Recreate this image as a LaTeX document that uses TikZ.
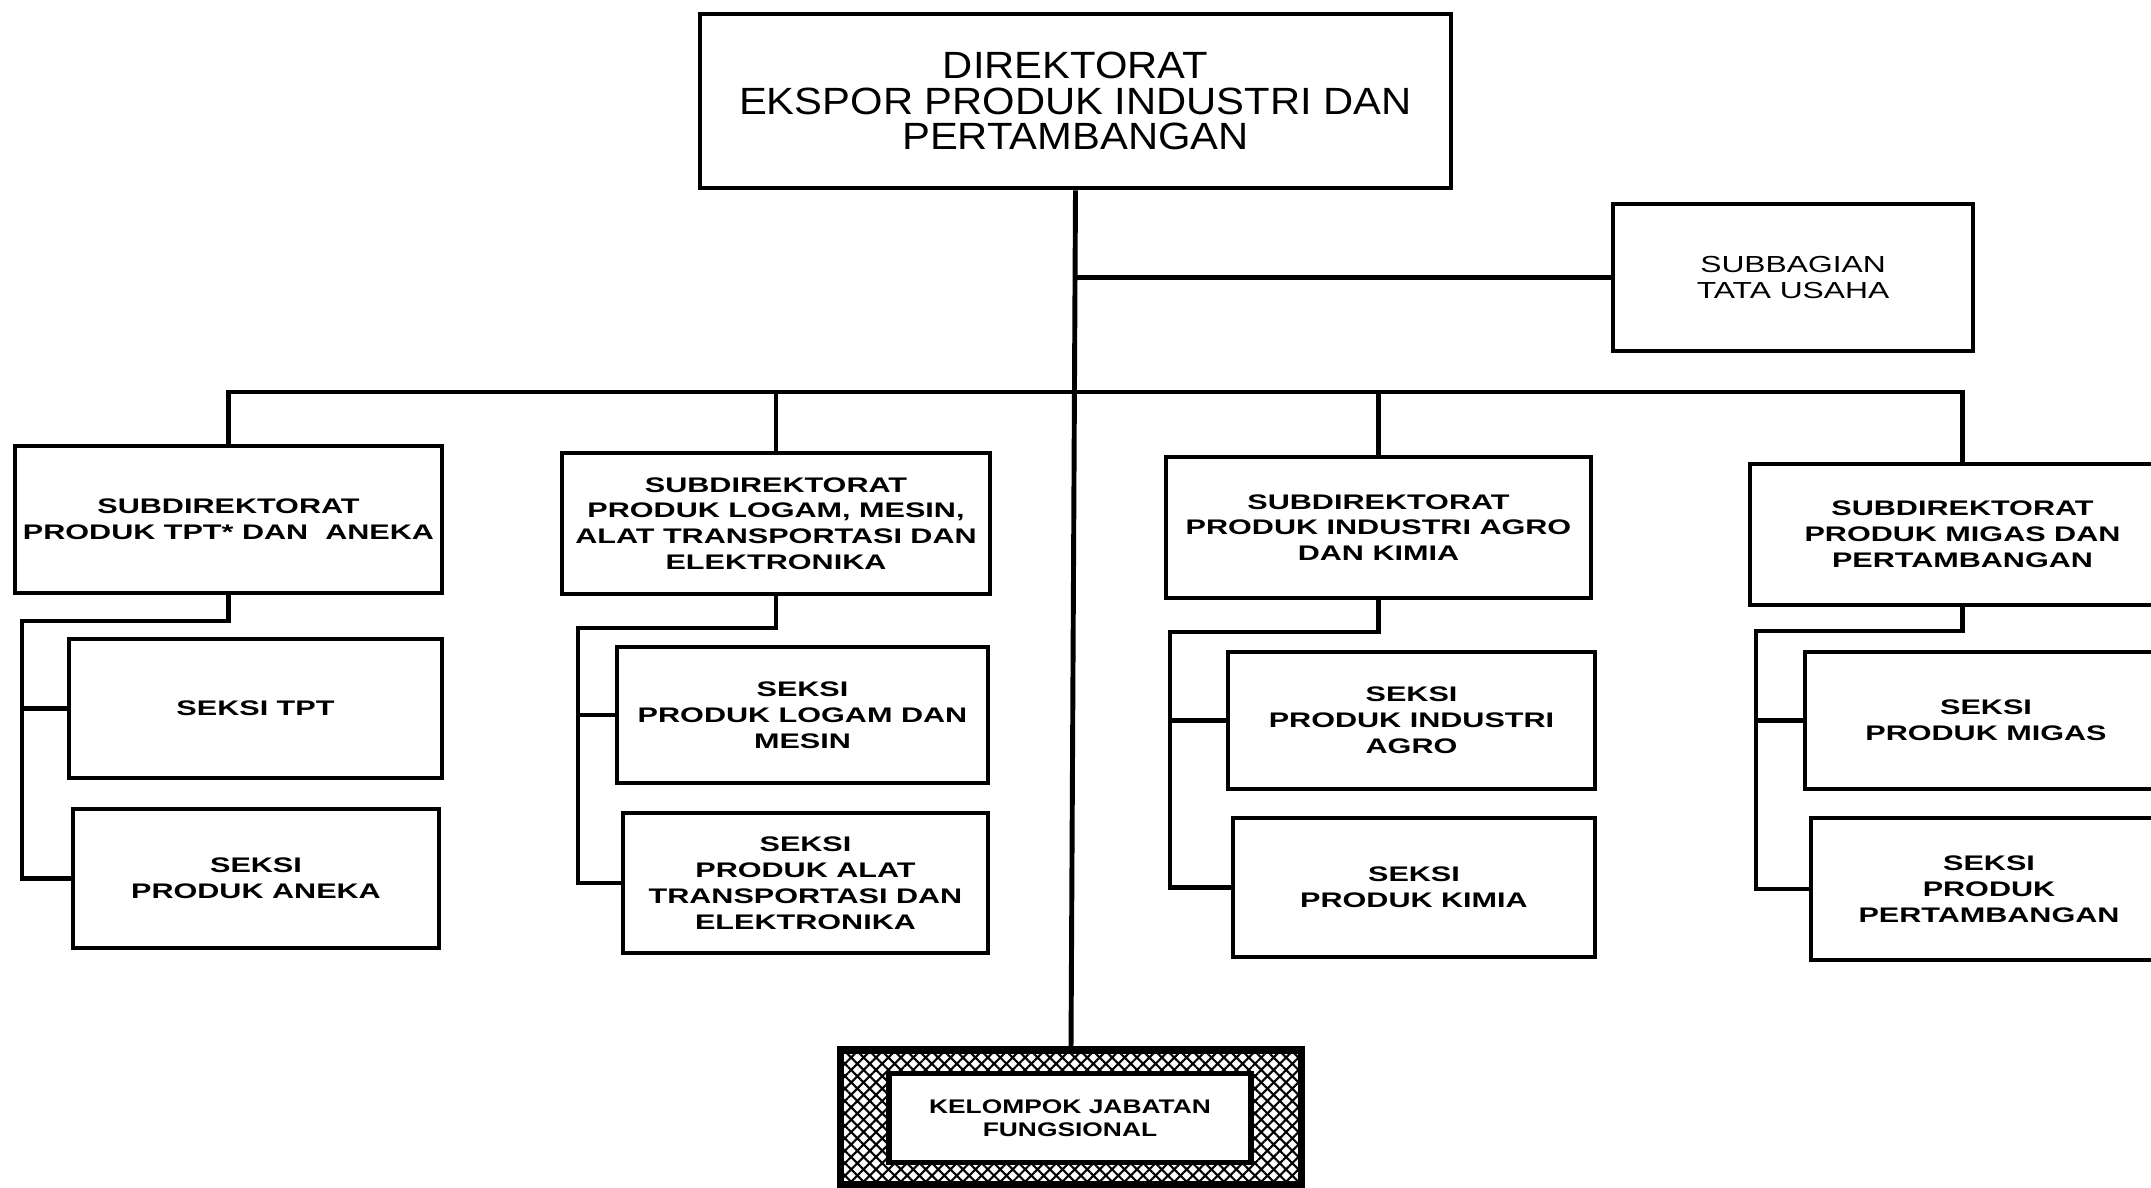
\documentclass[tikz,border=0pt]{standalone}
\usepackage{fontspec}
\setmainfont{Liberation Sans}
\newfontfamily\topfont[FakeStretch=1.1]{Liberation Sans}
\newfontfamily\sbfont[FakeStretch=1.37]{Liberation Sans}
\newfontfamily\subfont[FakeStretch=1.45]{Liberation Sans}
\newfontfamily\kelfont[FakeStretch=1.34]{Liberation Sans}
\usetikzlibrary{patterns.meta}
\tikzset{
  box/.style={draw, line width=1.4pt, align=center, inner sep=0pt, fill=white},
  conn/.style={line width=1.4pt},
  toptext/.style={font=\topfont\fontsize{10.8}{10}\selectfont},
  sbtext/.style={font=\sbfont\fontsize{6.6}{7.5}\selectfont},
  subtext/.style={font=\subfont\bfseries\fontsize{6}{7.35}\selectfont},
  keltext/.style={font=\kelfont\bfseries\fontsize{5.6}{6.6}\selectfont},
  hatchframe/.style={draw, line width=2pt, inner sep=0pt,
    pattern={Hatch[angle=45, distance=2.5pt, line width=0.6pt]}, pattern color=black},
}
\begin{document}
\begin{tikzpicture}[x=0.1mm, y=-0.1mm]
\useasboundingbox (0,0) rectangle (2151,1188);

% top
\node[box, toptext, minimum width=75.1mm, minimum height=17.4mm] (top) at (1075.5,101)
  {DIREKTORAT\\EKSPOR PRODUK INDUSTRI DAN\\PERTAMBANGAN};
\node[box, sbtext, minimum width=36mm, minimum height=14.7mm] (sb) at (1793,277.5)
  {SUBBAGIAN\\TATA USAHA};

% subdirektorat
\node[box, subtext, minimum width=42.7mm, minimum height=14.7mm] (s1) at (228.5,519.5)
  {SUBDIREKTORAT\\PRODUK TPT* DAN\ \ ANEKA};
\node[box, subtext, minimum width=42.8mm, minimum height=14.1mm] (s2) at (776,523.5)
  {SUBDIREKTORAT\\PRODUK LOGAM, MESIN,\\ALAT TRANSPORTASI DAN\\ELEKTRONIKA};
\node[box, subtext, minimum width=42.5mm, minimum height=14.1mm] (s3) at (1378.5,527.5)
  {SUBDIREKTORAT\\PRODUK INDUSTRI AGRO\\DAN KIMIA};
\node[box, subtext, minimum width=42.5mm, minimum height=14.1mm] (s4) at (1962.5,534.5)
  {SUBDIREKTORAT\\PRODUK MIGAS DAN\\PERTAMBANGAN};

% seksi
\node[box, subtext, minimum width=37.3mm, minimum height=13.9mm] (t1a) at (255.5,708.5)
  {SEKSI TPT};
\node[box, subtext, minimum width=36.6mm, minimum height=13.9mm] (t1b) at (256,878.5)
  {SEKSI\\PRODUK ANEKA};
\node[box, subtext, minimum width=37.1mm, minimum height=13.6mm] (t2a) at (802.5,715)
  {SEKSI\\PRODUK LOGAM DAN\\MESIN};
\node[box, subtext, minimum width=36.5mm, minimum height=14mm] (t2b) at (805.5,883)
  {SEKSI\\PRODUK ALAT\\TRANSPORTASI DAN\\ELEKTRONIKA};
\node[box, subtext, minimum width=36.7mm, minimum height=13.7mm] (t3a) at (1411.5,720.5)
  {SEKSI\\PRODUK INDUSTRI\\AGRO};
\node[box, subtext, minimum width=36.2mm, minimum height=13.9mm] (t3b) at (1414,887.5)
  {SEKSI\\PRODUK KIMIA};
\node[box, subtext, minimum width=36.2mm, minimum height=13.7mm] (t4a) at (1986,720.5)
  {SEKSI\\PRODUK MIGAS};
\node[box, subtext, minimum width=35.6mm, minimum height=14.2mm] (t4b) at (1989,889)
  {SEKSI\\PRODUK\\PERTAMBANGAN};

% kelompok jabatan fungsional
\node[hatchframe, minimum width=46.1mm, minimum height=13.5mm] (kel) at (1071,1117.5) {};
\node[box, keltext, line width=1.7pt, minimum width=36.2mm, minimum height=8.9mm] (kelin) at (1070,1118)
  {KELOMPOK JABATAN\\FUNGSIONAL};

% connectors
\coordinate (busL) at (228.5,392);
\draw[conn] (top.south) -- (kel.north);
\draw[conn] (top.south |- sb.west) -- (sb.west);
\draw[conn] (s1.north) -- (s1.north |- busL) -- (s4.north |- busL) -- (s4.north);
\draw[conn] (s2.north) -- (s2.north |- busL);
\draw[conn] (s3.north) -- (s3.north |- busL);

\coordinate (j1) at (22,621);
\draw[conn] (s1.south) -- (s1.south |- j1) -- (j1) -- (j1 |- t1b.west) -- (t1b.west);
\draw[conn] (j1 |- t1a.west) -- (t1a.west);

\coordinate (j2) at (578,628);
\draw[conn] (s2.south) -- (s2.south |- j2) -- (j2) -- (j2 |- t2b.west) -- (t2b.west);
\draw[conn] (j2 |- t2a.west) -- (t2a.west);

\coordinate (j3) at (1170,632);
\draw[conn] (s3.south) -- (s3.south |- j3) -- (j3) -- (j3 |- t3b.west) -- (t3b.west);
\draw[conn] (j3 |- t3a.west) -- (t3a.west);

\coordinate (j4) at (1756,631);
\draw[conn] (s4.south) -- (s4.south |- j4) -- (j4) -- (j4 |- t4b.west) -- (t4b.west);
\draw[conn] (j4 |- t4a.west) -- (t4a.west);
\end{tikzpicture}
\end{document}
